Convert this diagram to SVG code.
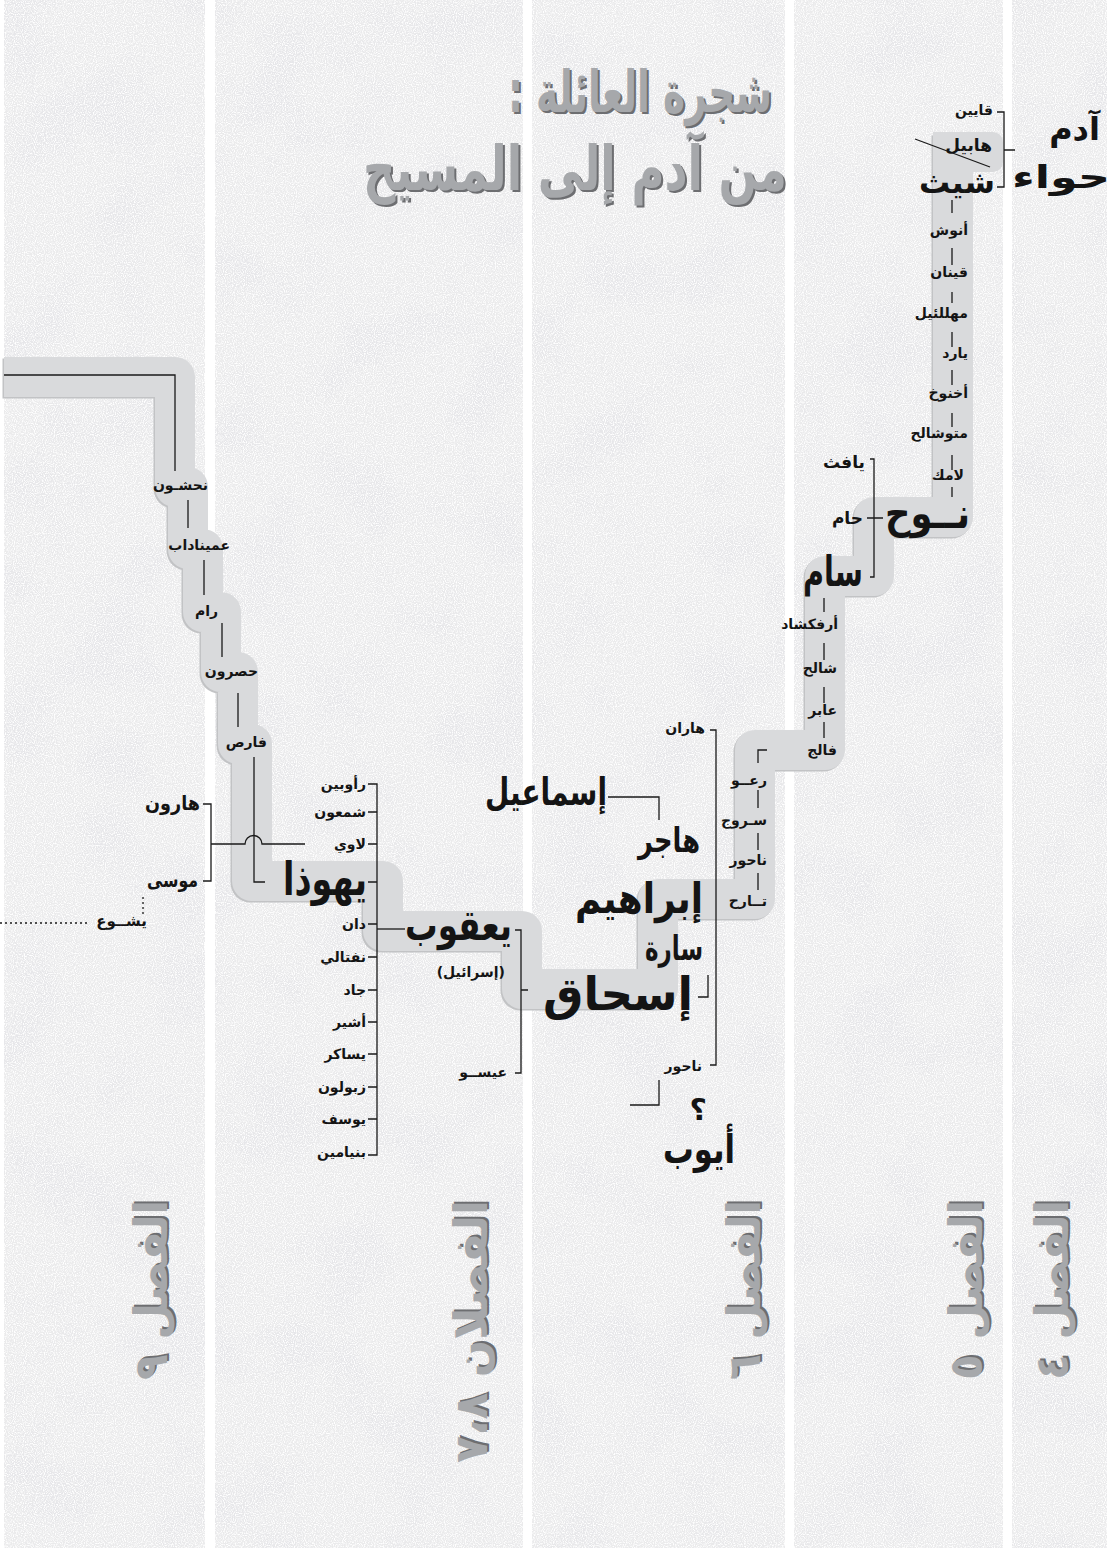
<svg xmlns="http://www.w3.org/2000/svg" width="1116" height="1548" viewBox="0 0 1116 1548">
<defs>
<style>
.pn{fill:#ebebec}
.n{font-family:"DejaVu Sans",sans-serif;font-weight:bold;fill:#141414;text-anchor:end}
.s{font-size:14px}
.m{font-size:17px}
.l{font-size:31px}
.xl{font-size:42px}
.ln{fill:none;stroke:#1a1a1a;stroke-width:1.3}
.dot{fill:none;stroke:#1a1a1a;stroke-width:1.3;stroke-dasharray:2 3}
.band{fill:none;stroke-linejoin:round;stroke-width:40}
.tt{font-family:"DejaVu Sans",sans-serif;font-weight:bold;text-anchor:end}
.tsh{fill:#6d6e71}
.tfc{fill:#a6a8ab}
</style>
<filter id="tex" x="0" y="0" width="100%" height="100%">
<feTurbulence type="fractalNoise" baseFrequency="0.013" numOctaves="5" seed="11" result="n"/>
<feColorMatrix in="n" type="matrix" values="0 0 0 0 0.8  0 0 0 0 0.8  0 0 0 0 0.82  4 0 0 0 -1.85" result="c"/>
<feTurbulence type="fractalNoise" baseFrequency="0.9" numOctaves="1" seed="3" result="g"/>
<feColorMatrix in="g" type="matrix" values="0 0 0 0 1  0 0 0 0 1  0 0 0 0 1  3.5 0 0 0 -1.5" result="w"/>
<feMerge result="m"><feMergeNode in="c"/><feMergeNode in="w"/></feMerge>
<feComposite in="m" in2="SourceGraphic" operator="in"/>
</filter>
</defs>
<rect width="1116" height="1548" fill="#ffffff"/>
<g id="panels">
<rect class="pn" x="4" y="0" width="201" height="1548"/>
<rect class="pn" x="215" y="0" width="308" height="1548"/>
<rect class="pn" x="532" y="0" width="253" height="1548"/>
<rect class="pn" x="794" y="0" width="209" height="1548"/>
<rect class="pn" x="1012" y="0" width="95" height="1548"/>
</g>
<g id="texture" filter="url(#tex)">
<rect x="4" y="0" width="201" height="1548"/>
<rect x="215" y="0" width="308" height="1548"/>
<rect x="532" y="0" width="253" height="1548"/>
<rect x="794" y="0" width="209" height="1548"/>
<rect x="1012" y="0" width="95" height="1548"/>
</g>
<g id="title">
<text class="tt tsh" x="774" y="114" font-size="58" textLength="264" lengthAdjust="spacingAndGlyphs">شجرة العائلة :&#x200F;</text>
<text class="tt tfc" x="772" y="112" font-size="58" textLength="264" lengthAdjust="spacingAndGlyphs">شجرة العائلة :&#x200F;</text>
<text class="tt tsh" x="789" y="192" font-size="62" textLength="424" lengthAdjust="spacingAndGlyphs">من آدم إلى المسيح</text>
<text class="tt tfc" x="787" y="190" font-size="62" textLength="424" lengthAdjust="spacingAndGlyphs">من آدم إلى المسيح</text>
</g>
<g id="chapters">
<g transform="translate(167,1200) rotate(-90)"><text class="tt tsh" x="2" y="2" font-size="46" textLength="180" lengthAdjust="spacingAndGlyphs">الفصل ٩</text><text class="tt tfc" font-size="46" textLength="180" lengthAdjust="spacingAndGlyphs">الفصل ٩</text></g>
<g transform="translate(487,1200) rotate(-90)"><text class="tt tsh" x="2" y="2" font-size="46" textLength="263" lengthAdjust="spacingAndGlyphs">الفصلان ٧،٨</text><text class="tt tfc" font-size="46" textLength="263" lengthAdjust="spacingAndGlyphs">الفصلان ٧،٨</text></g>
<g transform="translate(760,1200) rotate(-90)"><text class="tt tsh" x="2" y="2" font-size="46" textLength="180" lengthAdjust="spacingAndGlyphs">الفصل ٦</text><text class="tt tfc" font-size="46" textLength="180" lengthAdjust="spacingAndGlyphs">الفصل ٦</text></g>
<g transform="translate(982,1200) rotate(-90)"><text class="tt tsh" x="2" y="2" font-size="46" textLength="180" lengthAdjust="spacingAndGlyphs">الفصل ٥</text><text class="tt tfc" font-size="46" textLength="180" lengthAdjust="spacingAndGlyphs">الفصل ٥</text></g>
<g transform="translate(1068,1200) rotate(-90)"><text class="tt tsh" x="2" y="2" font-size="46" textLength="180" lengthAdjust="spacingAndGlyphs">الفصل ٤</text><text class="tt tfc" font-size="46" textLength="180" lengthAdjust="spacingAndGlyphs">الفصل ٤</text></g>
</g>
<g id="band">
<rect x="933" y="132" width="70" height="40" rx="10" fill="#d9dadc"/>
<path class="band" stroke="#c2c3c5" transform="translate(-1.5,1.5)" d="M953 134V517H874V576H825V750H755V899H658V989H522V931H383V881H252V744H238V672H221V612H203V549H188V487H175V377H4"/>
<path class="band" stroke="#d9dadc" d="M953 132V517H874V576H825V750H755V899H658V989H522V931H383V881H252V744H238V672H221V612H203V549H188V487H175V377H4"/>
</g>
<g id="connectors">
<path class="ln" d="M997 112H1004V187H997M1004 150H1015"/>
<path class="ln" d="M915 139L990 167"/>
<path class="ln" d="M952 200V213M952 248V265M952 292V303M952 332V347M952 370V385M952 413V427M952 455V470M952 487V497"/>
<path class="ln" d="M870 459H874V577H870M867 518H883"/>
<path class="ln" d="M824 598V612M824 643V660M824 687V703M824 722V738"/>
<path class="ln" d="M767 750H758V763M758 790V808M758 833V850M758 873V890"/>
<path class="ln" d="M710 730H716V1065H710"/>
<path class="ln" d="M608 797H659V820"/>
<path class="ln" d="M708 975V997H698"/>
<path class="ln" d="M630 1105H659V1080"/>
<path class="ln" d="M515 930H521V1073H515M521 990H528"/>
<path class="ln" d="M377 929H405"/>
<path class="ln" d="M368 784H377V1155H368M368 812H377M368 844H377M368 882H377M368 924H377M368 957H377M368 990H377M368 1022H377M368 1054H377M368 1087H377M368 1119H377"/>
<path class="ln" d="M305 844H262A8.5 8.5 0 0 0 245 844H211M203 804H211V881H203"/>
<path class="ln" d="M254 757V882H265"/>
<path class="ln" d="M238 693V727M222 623V657M204 560V595M188 500V528"/>
<path class="ln" d="M4 375H175V471"/>
<path class="dot" d="M143 897V915M0 923H90"/>
</g>
<g id="adam"><text class="n" x="1100" y="140" font-size="32">آدم</text></g>
<g id="eve"><text class="n" x="1110" y="188" font-size="32" textLength="98" lengthAdjust="spacingAndGlyphs">حواء</text></g>
<g id="cain"><text class="n s" x="993" y="115">قايين</text></g>
<g id="abel"><text class="n m" x="992" y="151">هابيل</text></g>
<g id="seth"><text class="n l" x="995" y="193">شيث</text></g>
<g id="enosh"><text class="n s" x="968" y="235">أنوش</text></g>
<g id="kenan"><text class="n s" x="968" y="277">قينان</text></g>
<g id="mahalalel"><text class="n s" x="968" y="318">مهللئيل</text></g>
<g id="jared"><text class="n s" x="968" y="358">يارد</text></g>
<g id="enoch"><text class="n s" x="968" y="398">أخنوخ</text></g>
<g id="methuselah"><text class="n s" x="968" y="438">متوشالح</text></g>
<g id="lamech"><text class="n s" x="964" y="480">لامك</text></g>
<g id="japheth"><text class="n" x="865" y="468" font-size="17">يافث</text></g>
<g id="ham"><text class="n" x="863" y="524" font-size="17">حام</text></g>
<g id="noah"><text class="n xl" x="970" y="528" textLength="85" lengthAdjust="spacingAndGlyphs">نــوح</text></g>
<g id="shem"><text class="n xl" x="863" y="586" textLength="60" lengthAdjust="spacingAndGlyphs">سام</text></g>
<g id="arphaxad"><text class="n s" x="838" y="629">أرفكشاد</text></g>
<g id="shelah"><text class="n s" x="837" y="673">شالح</text></g>
<g id="eber"><text class="n s" x="837" y="715">عابر</text></g>
<g id="peleg"><text class="n s" x="837" y="755">فالج</text></g>
<g id="reu"><text class="n s" x="767" y="785">رعــو</text></g>
<g id="serug"><text class="n s" x="767" y="825">سـروج</text></g>
<g id="nahor1"><text class="n s" x="767" y="865">ناحور</text></g>
<g id="terah"><text class="n s" x="767" y="906">تــارح</text></g>
<g id="haran"><text class="n s" x="705" y="733">هاران</text></g>
<g id="nahor2"><text class="n s" x="702" y="1071">ناحور</text></g>
<g id="ishmael"><text class="n" x="607" y="805" font-size="38" textLength="122" lengthAdjust="spacingAndGlyphs">إسماعيل</text></g>
<g id="hagar"><text class="n" x="700" y="852" font-size="34" textLength="62" lengthAdjust="spacingAndGlyphs">هاجر</text></g>
<g id="abraham"><text class="n" x="703" y="913" font-size="42" textLength="128" lengthAdjust="spacingAndGlyphs">إبراهيم</text></g>
<g id="sarah"><text class="n" x="703" y="960" font-size="34" textLength="58" lengthAdjust="spacingAndGlyphs">سارة</text></g>
<g id="isaac"><text class="n" x="693" y="1010" font-size="46" textLength="150" lengthAdjust="spacingAndGlyphs">إسحاق</text></g>
<g id="job"><text class="n" x="707" y="1120" font-size="30">؟</text><text class="n" x="735" y="1163" font-size="40" textLength="72" lengthAdjust="spacingAndGlyphs">أيوب</text></g>
<g id="jacob"><text class="n" x="512" y="940" font-size="42" textLength="107" lengthAdjust="spacingAndGlyphs">يعقوب</text><text class="n s" x="505" y="977">(إسرائيل)</text></g>
<g id="esau"><text class="n s" x="507" y="1077">عيســو</text></g>
<g id="judah"><text class="n" x="367" y="895" font-size="46" textLength="84" lengthAdjust="spacingAndGlyphs">يهوذا</text></g>
<g id="reuben"><text class="n s" x="366" y="789">رأوبين</text></g>
<g id="simeon"><text class="n s" x="366" y="817">شمعون</text></g>
<g id="levi"><text class="n s" x="366" y="849">لاوي</text></g>
<g id="dan"><text class="n s" x="366" y="929">دان</text></g>
<g id="naphtali"><text class="n s" x="366" y="962">نفتالي</text></g>
<g id="gad"><text class="n s" x="366" y="995">جاد</text></g>
<g id="asher"><text class="n s" x="366" y="1027">أشير</text></g>
<g id="issachar"><text class="n s" x="366" y="1059">يساكر</text></g>
<g id="zebulun"><text class="n s" x="366" y="1092">زبولون</text></g>
<g id="joseph"><text class="n s" x="366" y="1124">يوسف</text></g>
<g id="benjamin"><text class="n s" x="366" y="1157">بنيامين</text></g>
<g id="aaron"><text class="n" x="200" y="810" font-size="20" textLength="55" lengthAdjust="spacingAndGlyphs">هارون</text></g>
<g id="moses"><text class="n" x="198" y="887" font-size="20" textLength="51" lengthAdjust="spacingAndGlyphs">موسى</text></g>
<g id="joshua"><text class="n" x="147" y="926" font-size="15">يشــوع</text></g>
<g id="perez"><text class="n s" x="267" y="747">فارص</text></g>
<g id="hezron"><text class="n s" x="258" y="676">حصرون</text></g>
<g id="ram"><text class="n s" x="218" y="616">رام</text></g>
<g id="amminadab"><text class="n s" x="230" y="550">عميناداب</text></g>
<g id="nahshon"><text class="n s" x="208" y="490">نحشـون</text></g>
</svg>
